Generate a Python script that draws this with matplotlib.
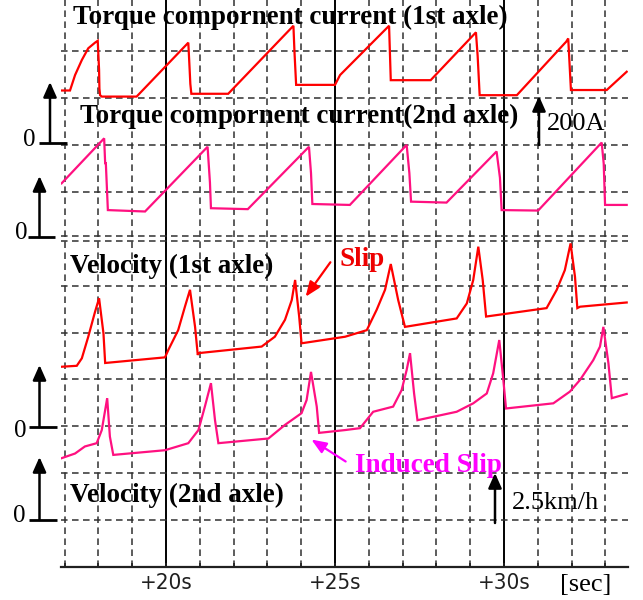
import matplotlib
matplotlib.use("Agg")
import matplotlib.pyplot as plt

# ---------------- data (time in s, level in grid divisions) ----------------
torque1_t = [16.91, 17.16, 17.31, 17.51, 17.70, 17.90, 17.98, 18.02, 18.03, 18.05, 18.10, 19.13,
             20.66, 20.70, 20.72, 20.75, 21.84, 23.77, 23.80, 23.85, 25.00, 25.15, 26.60, 26.65,
             27.83, 29.17, 29.22, 29.28, 30.38, 31.80, 31.84, 31.90, 31.98, 33.04, 33.63]
torque1_v = [10.16, 10.16, 10.49, 10.81, 11.06, 11.18, 11.22, 10.60, 10.20, 10.06, 10.03, 10.03,
             11.18, 10.60, 10.30, 10.09, 10.09, 11.54, 11.00, 10.28, 10.28, 10.49, 11.54, 10.38,
             10.38, 11.40, 10.90, 10.06, 10.06, 11.17, 11.20, 11.27, 10.17, 10.17, 10.56]

torque2_t = [16.91, 18.17, 18.20, 18.22, 18.28, 19.38, 21.23, 21.30, 21.33, 22.42, 24.23, 24.29,
             24.33, 25.44, 27.12, 27.20, 27.25, 28.30, 29.78, 29.88, 29.93, 31.01, 32.89, 32.95,
             32.99, 33.63]
torque2_v = [8.18, 9.14, 8.61, 8.61, 7.61, 7.58, 8.96, 8.20, 7.65, 7.63, 8.96, 8.40,
             7.74, 7.72, 9.00, 8.40, 7.79, 7.77, 8.86, 8.30, 7.61, 7.60, 9.05, 8.60,
             7.72, 7.72]

vel1_t = [16.91, 17.36, 17.51, 17.70, 17.90, 18.02, 18.15, 18.20, 19.97, 20.07, 20.36, 20.56,
          20.71, 20.86, 20.94, 20.96, 22.83, 23.22, 23.52, 23.72, 23.82, 23.94, 24.01, 25.30,
          25.94, 26.23, 26.48, 26.65, 26.87, 27.07, 28.60, 28.90, 29.09, 29.24, 29.37, 29.47,
          31.26, 31.56, 31.80, 31.97, 32.10, 32.17, 32.25, 33.63]
vel1_v = [4.27, 4.29, 4.45, 4.91, 5.44, 5.73, 4.98, 4.35, 4.47, 4.63, 5.05, 5.55,
          5.91, 5.12, 4.52, 4.56, 4.70, 4.91, 5.27, 5.69, 6.12, 5.34, 4.77, 4.91,
          5.05, 5.48, 5.91, 6.46, 5.69, 5.12, 5.30, 5.62, 6.12, 6.83, 6.12, 5.34,
          5.52, 5.91, 6.33, 6.90, 6.19, 5.52, 5.55, 5.64]

vel2_t = [16.91, 17.31, 17.60, 17.95, 18.10, 18.26, 18.34, 18.44, 19.97, 20.66, 20.96, 21.15,
          21.33, 21.45, 21.55, 23.03, 23.52, 24.01, 24.16, 24.29, 24.46, 24.53, 25.30, 25.74,
          26.13, 26.72, 26.97, 27.12, 27.22, 27.34, 27.44, 28.60, 29.09, 29.49, 29.68, 29.86,
          29.98, 30.06, 31.46, 31.95, 32.25, 32.64, 32.84, 32.94, 33.09, 33.19, 33.63]
vel2_v = [2.32, 2.42, 2.57, 2.64, 2.92, 3.60, 2.78, 2.39, 2.49, 2.64, 2.92, 3.42,
          3.92, 3.13, 2.64, 2.74, 3.03, 3.28, 3.56, 4.16, 3.42, 2.86, 2.92, 2.96,
          3.31, 3.42, 3.77, 4.20, 4.56, 3.70, 3.13, 3.31, 3.49, 3.70, 4.13, 4.84,
          3.99, 3.38, 3.49, 3.74, 3.99, 4.41, 4.70, 5.12, 4.34, 3.60, 3.69]

major_ticks = [20, 25, 30]
major_labels = ["+20s", "+25s", "+30s"]
minor_ticks = list(range(17, 34))
h_grid = [1, 2, 3, 4, 5, 6, 6.95, 7.05, 8, 9, 10, 11]

RED = "#ff0000"
PINK = "#ff1080"
MAGENTA = "#ff00ff"

# ---------------- figure ----------------
W, H = 643, 600
fig = plt.figure(figsize=(W / 100, H / 100), dpi=100)
x0, x1, ybot = 61, 628, 567
ax = fig.add_axes([x0 / W, (H - ybot) / H, (x1 - x0) / W, ybot / H])
pps = 33.8   # px per second
ppd = 46.9   # px per division
ax.set_xlim(20 + (x0 - 166) / pps, 20 + (x1 - 166) / pps)
ax.set_ylim(0, ybot / ppd)

for s in ["left", "right", "top"]:
    ax.spines[s].set_visible(False)
ax.spines["bottom"].set_linewidth(1.6)
ax.spines["bottom"].set_color("#202020")

dash = (4.3, 2.9)
for t in minor_ticks:
    if t in major_ticks:
        ax.axvline(t, color="black", lw=1.4, zorder=1)
    else:
        ax.axvline(t, color="#303030", lw=1.1, ls=(0, dash), zorder=1)
for d in h_grid:
    ax.axhline(d, color="#303030", lw=1.1, ls=(0, dash), zorder=1)

ax.set_xticks(major_ticks)
ax.set_xticklabels(major_labels)
ax.set_xticks(minor_ticks, minor=True)
ax.set_yticks([])
ax.tick_params(axis="x", which="both", direction="in", length=3, width=1.2, color="#202020")
ax.tick_params(axis="x", which="major", pad=4, labelsize=16)
for lbl in ax.get_xticklabels():
    lbl.set_family(["DejaVu Sans"])
    lbl.set_stretch("condensed")
    lbl.set_color("#202020")

# traces
kw = dict(lw=1.6, zorder=3, solid_joinstyle="miter")
ax.plot(torque1_t, torque1_v, color=RED, **kw)
ax.plot(torque2_t, torque2_v, color=PINK, **kw)
ax.plot(vel1_t, vel1_v, color=RED, **kw)
ax.plot(vel2_t, vel2_v, color=PINK, **kw)

serif = ["Liberation Serif", "DejaVu Serif"]
bold = dict(family=serif, fontweight="bold", fontsize=19.5, va="center", ha="left", zorder=5)

def tx(px):
    return 20 + (px - 166) / pps

def dy(py):
    return (ybot - py) / ppd

ax.text(tx(73), dy(17), "Torque compornent current (1st axle)", color="black", **bold)
ax.text(tx(80), dy(116), "Torque compornent current(2nd axle)", color="black", **bold)
ax.text(tx(70), dy(266), "Velocity (1st axle)", color="black", **bold)
ax.text(tx(70), dy(495), "Velocity (2nd axle)", color="black", **bold)
ax.text(tx(340), dy(260), "Slip", color="#ee0000", **bold)
ax.text(tx(355), dy(465), "Induced Slip", color=MAGENTA, **bold)

reg = dict(family=serif, fontsize=19, va="center", ha="left", color="black", zorder=5)
ax.text(tx(547), dy(124), "200A", **reg)
ax.text(tx(512), dy(503), "2.5km/h", **reg)
fig.text(560 / W, 1 - 585 / H, "[sec]", family=serif, fontsize=19, va="center", ha="left")

# annotation arrows
ax.annotate("", xy=(tx(304), dy(299)), xytext=(tx(332), dy(260)),
            arrowprops=dict(arrowstyle="-|>,head_length=0.45,head_width=0.18",
                            mutation_scale=20, color=RED, lw=1.6), zorder=6)
ax.annotate("", xy=(tx(309), dy(438)), xytext=(tx(348), dy(463)),
            arrowprops=dict(arrowstyle="-|>,head_length=0.45,head_width=0.18",
                            mutation_scale=20, color=MAGENTA, lw=1.6), zorder=6)

arrow_kw = dict(arrowstyle="-|>,head_length=0.45,head_width=0.2",
                mutation_scale=20, color="black", lw=1.8, shrinkA=0, shrinkB=0)
# scale arrows
ax.annotate("", xy=(tx(539), dy(96)), xytext=(tx(539), dy(145)),
            arrowprops=arrow_kw, zorder=6)
ax.annotate("", xy=(tx(495), dy(473)), xytext=(tx(495), dy(523)),
            arrowprops=arrow_kw, zorder=6)

# zero markers on the left
markers = [  # (line x0, line x1, y, arrow x, arrow tip y, label x, label y)
    (39, 67, 143, 50, 82, 29, 140),
    (28, 55, 237, 39.5, 176, 21, 233),
    (29, 57, 427, 39.5, 365, 20, 431),
    (29, 57, 520, 39.5, 457, 19, 516),
]
for lx0, lx1, ly, axp, tip, zx, zy in markers:
    ax.plot([tx(lx0), tx(lx1)], [dy(ly), dy(ly)], color="black", lw=2.0,
            clip_on=False, solid_capstyle="butt", zorder=6)
    ax.annotate("", xy=(tx(axp), dy(tip)), xytext=(tx(axp), dy(ly)),
                arrowprops=arrow_kw, annotation_clip=False, zorder=6)
    ax.text(tx(zx), dy(zy), "0", family=serif, fontsize=18, ha="center", va="center",
            clip_on=False, zorder=6)

fig.savefig("out.png", dpi=100)
